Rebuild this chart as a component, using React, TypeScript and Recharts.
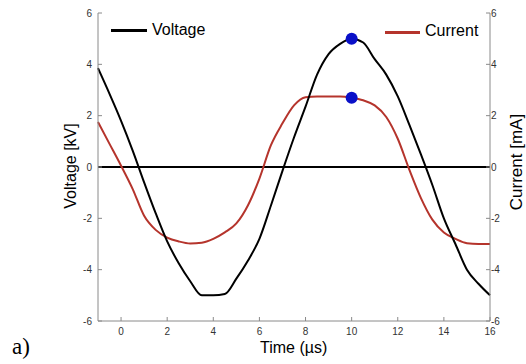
import React from 'react';
import { LineChart, Line, XAxis, YAxis, ReferenceLine, ReferenceDot } from 'recharts';

// samples, every 0.5 µs
const time = [
	-1, -0.5, 0, 0.5, 1, 1.5, 2, 2.5, 3, 3.5, 4, 4.5, 5, 5.5, 6, 6.5, 7, 7.5,
	8, 8.5, 9, 9.5, 10, 10.5, 11, 11.5, 12, 12.5, 13, 13.5, 14, 14.5, 15, 15.5, 16,
];
const voltage = [
	3.85, 2.85, 1.8, 0.65, -0.6, -1.8, -2.9, -3.75, -4.45, -5.0, -5.0, -4.95, -4.35, -3.65, -2.8, -1.5, -0.15, 1.15,
	2.35, 3.6, 4.4, 4.8, 5.0, 4.85, 4.2, 3.6, 2.75, 1.65, 0.5, -0.7, -2.0, -3.0, -4.0, -4.55, -5.0,
];
const current = [
	1.75, 0.9, 0.05, -0.85, -1.9, -2.45, -2.75, -2.9, -2.98, -2.95, -2.8, -2.55, -2.2, -1.5, -0.45, 0.85, 1.7, 2.4,
	2.72, 2.75, 2.75, 2.75, 2.7, 2.6, 2.4, 1.95, 1.1, -0.1, -1.2, -2.05, -2.55, -2.8, -2.97, -3.0, -3.0,
];
const xTicks = [0, 2, 4, 6, 8, 10, 12, 14, 16];
const yTicks = [-6, -4, -2, 0, 2, 4, 6];
const markTime = 10;

const data = time.map((t, i) => ({ t, v: voltage[i], c: current[i] }));
const markIdx = time.indexOf(markTime);

const FONT = '"Liberation Sans", Arial, sans-serif';
const AXIS = '#8a8a8a';
const RED = '#b5342c';
const tickStyle = { fill: '#333', fontSize: 10, fontFamily: FONT };

export default function App() {
	return (
		<div style={{ position: 'absolute', left: 0, top: 0, width: 526, height: 364, background: '#fff', fontFamily: FONT }}>
			<LineChart width={526} height={364} data={data} margin={{ top: 13, right: 0, bottom: 0, left: 0 }}>
				<XAxis
					dataKey="t" type="number" domain={[-1, 16]} ticks={xTicks} height={43}
					stroke={AXIS} tickSize={-4} tickMargin={11} tick={tickStyle}
				/>
				<XAxis
					xAxisId="top" orientation="top" dataKey="t" type="number" domain={[-1, 16]} ticks={xTicks}
					height={0} stroke={AXIS} tickSize={-4} tick={false}
				/>
				<YAxis
					yAxisId="left" domain={[-6, 6]} ticks={yTicks} width={98}
					stroke={AXIS} tickSize={-4} tickMargin={10} tick={tickStyle}
				/>
				<YAxis
					yAxisId="right" orientation="right" domain={[-6, 6]} ticks={yTicks} width={36}
					stroke={AXIS} tickSize={-4} tickMargin={5} tick={tickStyle}
				/>
				<ReferenceLine yAxisId="left" y={0} stroke="#000" strokeWidth={1.8} />
				<Line yAxisId="right" type="monotone" dataKey="c" stroke={RED} strokeWidth={2} dot={false} isAnimationActive={false} />
				<Line yAxisId="left" type="monotone" dataKey="v" stroke="#000" strokeWidth={2} dot={false} isAnimationActive={false} />
				<ReferenceDot yAxisId="left" x={markTime} y={voltage[markIdx]} r={6} fill="#0a10c8" stroke="none" />
				<ReferenceDot yAxisId="right" x={markTime} y={current[markIdx]} r={6} fill="#0a10c8" stroke="none" />
			</LineChart>

			{/* legends */}
			<div style={{ position: 'absolute', left: 111, top: 29, width: 36, height: 2.5, background: '#000' }} />
			<div style={{ position: 'absolute', left: 152, top: 21, fontSize: 16 }}>Voltage</div>
			<div style={{ position: 'absolute', left: 385, top: 31, width: 35, height: 2.5, background: RED }} />
			<div style={{ position: 'absolute', left: 425, top: 22, fontSize: 16 }}>Current</div>

			{/* axis titles */}
			<div style={{ position: 'absolute', left: 71, top: 166, fontSize: 16, whiteSpace: 'nowrap', transform: 'translate(-50%, -50%) rotate(-90deg)' }}>
				Voltage [kV]
			</div>
			<div style={{ position: 'absolute', left: 517, top: 162, fontSize: 17, whiteSpace: 'nowrap', transform: 'translate(-50%, -50%) rotate(-90deg)' }}>
				Current [mA]
			</div>
			<div style={{ position: 'absolute', left: 260, top: 339, fontSize: 16, whiteSpace: 'nowrap' }}>Time (µs)</div>
			<div style={{ position: 'absolute', left: 12, top: 334, fontSize: 23, fontFamily: '"Liberation Serif", "Times New Roman", serif' }}>a)</div>
		</div>
	);
}
